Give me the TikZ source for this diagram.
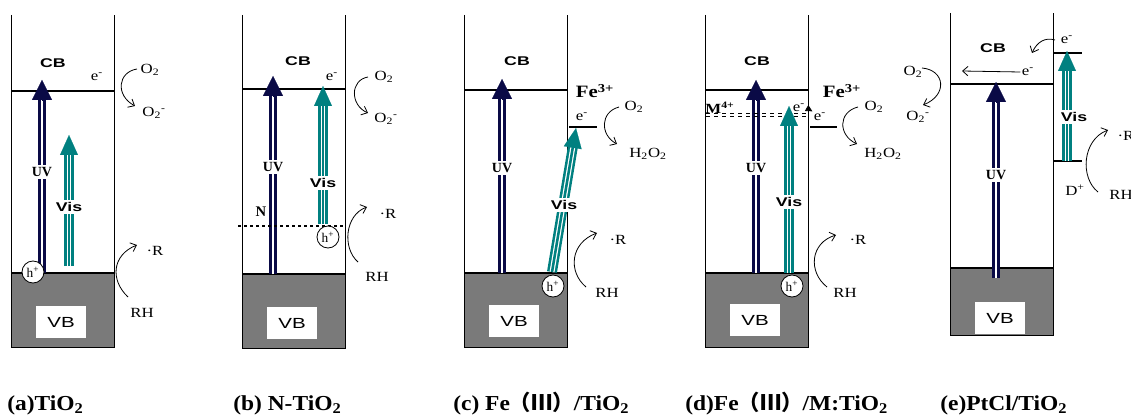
\documentclass[tikz,border=0pt]{standalone}
\usepackage{fontspec}
\setmainfont{Liberation Serif}
\newfontfamily\wsans[FakeStretch=1.4]{Liberation Sans}
\newfontfamily\wserif[FakeStretch=1.2]{Liberation Serif}
\newfontfamily\capserif[FakeStretch=1.1]{Liberation Serif}
\newfontfamily\cjk{Noto Sans CJK SC}
\usetikzlibrary{arrows.meta,calc}
\definecolor{uvnavy}{RGB}{10,10,70}
\definecolor{visteal}{RGB}{0,128,128}
\definecolor{vbgray}{RGB}{122,122,122}
% light arrows: shaft up to the head, then the head
\newcommand\uvarrow[2]{%
  \draw[uvshaft] (#1) -- ($(#2)!14pt!(#1)$);
  \draw[uvstripe] (#1) -- ($(#2)!14pt!(#1)$);
  \draw[uvhead] ($(#2)!15pt!(#1)$) -- (#2);}
\newcommand\visarrow[2]{%
  \draw[visshaft] (#1) -- ($(#2)!14pt!(#1)$);
  \draw[visstripe] (#1) -- ($(#2)!14pt!(#1)$);
  \draw[vishead] ($(#2)!15pt!(#1)$) -- (#2);}

\begin{document}
\begin{tikzpicture}[x=0.75pt, y=-0.75pt, >={Straight Barb[length=4pt,width=7pt]},
  every node/.style={inner sep=1pt, font=\wserif\fontsize{10.5}{12}\selectfont},
  side/.style={line width=0.7pt},
  level/.style={line width=2.2pt},
  band/.style={font=\wsans\bfseries\fontsize{9.5}{10}\selectfont},
  vbbox/.style={fill=white, minimum width=38pt, minimum height=24pt, font=\wsans\fontsize{11}{12}\selectfont},
  uvshaft/.style={uvnavy, line width=6pt},
  uvstripe/.style={white, line width=1pt, xshift=0.6pt},
  uvhead/.style={uvnavy, line width=0.1pt, -{Triangle[length=15pt,width=15pt]}},
  visshaft/.style={visteal, line width=7.5pt},
  visstripe/.style={white, line width=0.9pt, double=visteal, double distance=1.9pt},
  vishead/.style={visteal, line width=0.1pt, -{Triangle[length=15pt,width=13.5pt]}},
  uvlabel/.style={fill=white, inner sep=2pt, font=\rmfamily\bfseries\fontsize{10.5}{11}\selectfont},
  vislabel/.style={fill=white, inner sep=2pt, font=\wsans\bfseries\fontsize{9.5}{10}\selectfont},
  hole/.style={circle, draw, line width=0.6pt, fill=white, inner sep=0pt, minimum size=16.5pt, font=\rmfamily\fontsize{10}{10}\selectfont},
  ion/.style={font=\wserif\bfseries\fontsize{13}{14}\selectfont},
  react/.style={->, line width=0.6pt},
  caption/.style={anchor=base west, inner sep=0pt, font=\capserif\bfseries\fontsize{16}{18}\selectfont}]
\useasboundingbox (0,0) rectangle (1131,417);

% the five band boxes
\foreach \n/\l/\t/\c/\v/\b/\m in {a/11/15/91/273/347/322, b/242/15/89/274/348/323,
    c/464/15/90/273/347/321, d/705/15/90/273/347/320, e/950/13/84/268/335/318}{
  \fill[vbgray] (\l,\v) rectangle (\l+103,\b);
  \draw[side] (\l,\t) -- (\l,\b) -- (\l+103,\b) -- (\l+103,\t);
  \draw[level] (\l,\c) -- (\l+103,\c);
  \draw[level] (\l,\v) -- (\l+103,\v);
  \node[vbbox] (vb\n) at (\l+50,\m) {VB};
}

% (a) TiO2
\node[band] (cba) at (53,63) {CB};
\coordinate (uva1) at (42,273); \coordinate (uva2) at (42,80);
\uvarrow{uva1}{uva2}
\node[uvlabel] (uvla) at (42,172) {UV};
\coordinate (visa1) at (69,266); \coordinate (visa2) at (69,135);
\visarrow{visa1}{visa2}
\node[vislabel] (visla) at (69,207) {Vis};
\node[hole] (ha) at (33,272) {h\textsuperscript{+}};
\node (ea) at (97,77) {e\textsuperscript{-}};
\node (o2a) at (150,70) {O\textsubscript{2}};
\node (o2ma) at (154,113) {O\textsubscript{2}\textsuperscript{-}};
\coordinate (ca1) at (137,69); \coordinate (ca2) at (135,106);
\draw[react] (ca1) .. controls (118,72) and (115,95) .. (ca2);
\node (ra) at (155,251) {·R};
\node (rha) at (142,313) {RH};
\coordinate (ca3) at (128,297); \coordinate (ca4) at (137,245);
\draw[react] (ca3) .. controls (110,280) and (112,255) .. (ca4);

% (b) N-TiO2
\node[band] (cbb) at (298,61) {CB};
\coordinate (uvb1) at (273,274); \coordinate (uvb2) at (273,76);
\uvarrow{uvb1}{uvb2}
\node[uvlabel] (uvlb) at (273,167) {UV};
\draw[line width=2pt, dash pattern=on 2.5pt off 2pt] (238,226) -- (345,226);
\node[font=\rmfamily\bfseries\fontsize{11}{12}\selectfont] (nb) at (261,212) {N};
\coordinate (visb1) at (323,224); \coordinate (visb2) at (323,86);
\visarrow{visb1}{visb2}
\node[vislabel] (vislb) at (323,183) {Vis};
\node[hole] (hb) at (328,237) {h\textsuperscript{+}};
\node (eb) at (332,77) {e\textsuperscript{-}};
\node (o2b) at (384,77) {O\textsubscript{2}};
\node (o2mb) at (386,119) {O\textsubscript{2}\textsuperscript{-}};
\coordinate (cb1) at (368,77); \coordinate (cb2) at (368,113);
\draw[react] (cb1) .. controls (350,80) and (350,105) .. (cb2);
\node (rb) at (388,214) {·R};
\node (rhb) at (377,277) {RH};
\coordinate (cb3) at (358,262); \coordinate (cb4) at (367,207);
\draw[react] (cb3) .. controls (342,248) and (345,215) .. (cb4);

% (c) Fe(III)/TiO2
\node[band] (cbc) at (517,61) {CB};
\coordinate (uvc1) at (502,273); \coordinate (uvc2) at (502,79);
\uvarrow{uvc1}{uvc2}
\node[uvlabel] (uvlc) at (502,168) {UV};
\node[ion] (fec) at (595,91) {Fe\textsuperscript{3+}};
\draw[level] (569,127) -- (597,127);
\node (ec) at (582,117) {e\textsuperscript{-}};
\coordinate (visc1) at (552,272); \coordinate (visc2) at (576,128);
\visarrow{visc1}{visc2}
\node[vislabel] (vislc) at (564,205) {Vis};
\node[hole] (hc) at (553,286) {h\textsuperscript{+}};
\node (o2c) at (634,107) {O\textsubscript{2}};
\node (h2o2c) at (648,154) {H\textsubscript{2}O\textsubscript{2}};
\coordinate (cc1) at (619,107); \coordinate (cc2) at (617,144);
\draw[react] (cc1) .. controls (600,112) and (600,135) .. (cc2);
\node (rc) at (618,240) {·R};
\node (rhc) at (607,293) {RH};
\coordinate (cc3) at (586,287); \coordinate (cc4) at (597,233);
\draw[react] (cc3) .. controls (568,272) and (570,243) .. (cc4);

% (d) Fe(III)/M:TiO2
\node[band] (cbd) at (757,61) {CB};
\coordinate (uvd1) at (756,273); \coordinate (uvd2) at (756,80);
\uvarrow{uvd1}{uvd2}
\node[uvlabel] (uvld) at (756,168) {UV};
\node[font=\wserif\bfseries\fontsize{10.5}{11}\selectfont] (md) at (720,108) {M\textsuperscript{4+}};
\draw[line width=0.6pt, dashed] (706,113) -- (808,113);
\draw[line width=0.6pt, dashed] (706,116) -- (808,116);
\coordinate (visd1) at (789,273); \coordinate (visd2) at (789,106);
\visarrow{visd1}{visd2}
\node[vislabel] (visld) at (789,202) {Vis};
\node[hole] (hd) at (792,286) {h\textsuperscript{+}};
\node (ed1) at (799,108) {e\textsuperscript{-}};
\node (ed2) at (820,117) {e\textsuperscript{-}};
\draw[line width=0.6pt, -{Triangle[length=5pt,width=5pt]}] (ed1.east) -- (ed2.north west);
\draw[level] (810,127) -- (837,127);
\node[ion] (fed) at (842,91) {Fe\textsuperscript{3+}};
\node (o2d) at (874,107) {O\textsubscript{2}};
\node (h2o2d) at (883,154) {H\textsubscript{2}O\textsubscript{2}};
\coordinate (cd1) at (858,107); \coordinate (cd2) at (857,144);
\draw[react] (cd1) .. controls (838,112) and (838,135) .. (cd2);
\node (rd) at (858,240) {·R};
\node (rhd) at (845,293) {RH};
\coordinate (cd3) at (827,287); \coordinate (cd4) at (836,235);
\draw[react] (cd3) .. controls (808,272) and (810,243) .. (cd4);

% (e) PtCl/TiO2
\node[band] (cbe) at (993,48) {CB};
\coordinate (uve1) at (996,278); \coordinate (uve2) at (996,82);
\uvarrow{uve1}{uve2}
\node[uvlabel] (uvle) at (996,175) {UV};
\draw[level] (1053,53) -- (1082,53);
\draw[level] (1053,161) -- (1082,161);
\coordinate (vise1) at (1067,161); \coordinate (vise2) at (1067,51);
\visarrow{vise1}{vise2}
\node[vislabel] (visle) at (1074,117) {Vis};
\node (ee1) at (1067,40) {e\textsuperscript{-}};
\node (ee2) at (1028,72) {e\textsuperscript{-}};
\coordinate (ce1) at (1055,40); \coordinate (ce2) at (1032,53);
\draw[react] (ce1) .. controls (1045,37) and (1037,42) .. (ce2);
\coordinate (ce3) at (962,71);
\draw[react] (ee2.west) -- (ce3);
\node (o2e) at (913,72) {O\textsubscript{2}};
\node (o2me) at (918,117) {O\textsubscript{2}\textsuperscript{-}};
\coordinate (ce4) at (922,68); \coordinate (ce5) at (923,105);
\draw[react] (ce4) .. controls (945,70) and (948,95) .. (ce5);
\node (de) at (1075,190) {D\textsuperscript{+}};
\node[anchor=west] (re) at (1116,136) {·R};
\node (rhe) at (1121,195) {RH};
\coordinate (ce6) at (1098,192); \coordinate (ce7) at (1108,130);
\draw[react] (ce6) .. controls (1080,178) and (1082,140) .. (ce7);

% captions
\node[caption] (capa) at (7,410) {(a)TiO\textsubscript{2}};
\node[caption] (capb) at (233,410) {(b) N-TiO\textsubscript{2}};
\node[caption] (capc) at (453,410) {(c) Fe{\cjk\bfseries （Ⅲ）}/TiO\textsubscript{2}};
\node[caption] (capd) at (685,410) {(d)Fe{\cjk\bfseries （Ⅲ）}/M:TiO\textsubscript{2}};
\node[caption] (cape) at (940,410) {(e)PtCl/TiO\textsubscript{2}};
\end{tikzpicture}
\end{document}
